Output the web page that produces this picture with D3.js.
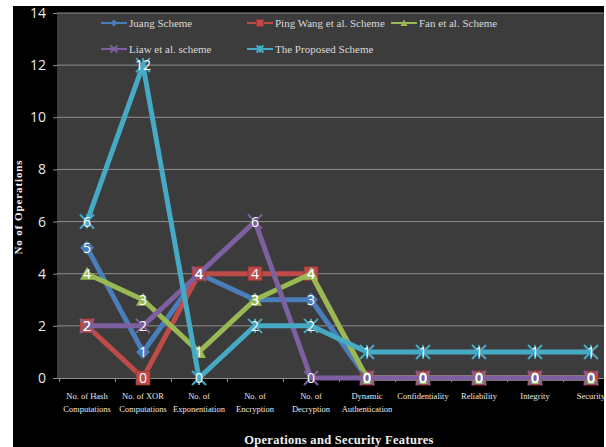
<!DOCTYPE html>
<html>
<head>
<meta charset="utf-8">
<script src="https://cdn.jsdelivr.net/npm/d3@7"></script>
<style>
  html, body { margin: 0; padding: 0; background: #ffffff; }
  svg { display: block; }
</style>
</head>
<body>
<svg id="chart" width="606" height="447"></svg>
<script>
// Categories (two-line labels)
const categories = [
  ["No. of Hash", "Computations"],
  ["No. of XOR", "Computations"],
  ["No. of", "Exponentiation"],
  ["No. of", "Encryption"],
  ["No. of", "Decryption"],
  ["Dynamic", "Authentication"],
  ["Confidentiality"],
  ["Reliability"],
  ["Integrity"],
  ["Security"]
];

// Series values
const juang    = [5, 1, 4, 3, 3, 0, 0, 0, 0, 0];
const pingWang = [2, 0, 4, 4, 4, 0, 0, 0, 0, 0];
const fan      = [4, 3, 1, 3, 4, 0, 0, 0, 0, 0];
const liaw     = [2, 2, 4, 6, 0, 0, 0, 0, 0, 0];
const proposed = [6, 12, 0, 2, 2, 1, 1, 1, 1, 1];

const seriesNames = ["Juang Scheme", "Ping Wang  et al.  Scheme", "Fan et al.  Scheme", "Liaw et al. scheme", "The Proposed Scheme"];
const yTicks = [0, 2, 4, 6, 8, 10, 12, 14];

const series = [
  { name: seriesNames[0], values: juang,    color: "#4a7ebb", marker: "diamond" },
  { name: seriesNames[1], values: pingWang, color: "#be4b48", marker: "square" },
  { name: seriesNames[2], values: fan,      color: "#98b954", marker: "triangle" },
  { name: seriesNames[3], values: liaw,     color: "#7d60a0", marker: "x" },
  { name: seriesNames[4], values: proposed, color: "#46aac5", marker: "star" }
];

const svg = d3.select("#chart");

// Black chart area
svg.append("rect").attr("x", 13).attr("y", 6).attr("width", 591).attr("height", 441).attr("fill", "#000");

const plot = { left: 57, right: 604, top: 13, bottom: 378 };

svg.append("rect")
  .attr("x", plot.left).attr("y", plot.top)
  .attr("width", plot.right - plot.left).attr("height", plot.bottom - plot.top)
  .attr("fill", "#3c3c3c");

const x = d3.scaleBand()
  .domain(d3.range(categories.length))
  .range([59, 619]);
const y = d3.scaleLinear().domain([0, 14]).range([plot.bottom, plot.top]);
const cx = i => x(i) + x.bandwidth() / 2;

// Gridlines
svg.append("g").selectAll("line")
  .data(yTicks.filter(t => t > 0))
  .join("line")
  .attr("x1", plot.left).attr("x2", plot.right)
  .attr("y1", d => y(d)).attr("y2", d => y(d))
  .attr("stroke", "#8e8e8e").attr("stroke-width", 1);

// Y axis
const yAxis = svg.append("g")
  .attr("transform", `translate(${plot.left},0)`)
  .call(d3.axisLeft(y).tickValues(yTicks).tickSize(4).tickPadding(7));
yAxis.select(".domain").remove();
yAxis.selectAll(".tick line").attr("stroke", "#8e8e8e");
yAxis.selectAll(".tick text")
  .attr("fill", "#e8e8e8")
  .attr("font-family", "'Open Sans', sans-serif")
  .attr("font-size", 14);

// X axis
const xAxis = svg.append("g")
  .attr("transform", `translate(0,${plot.bottom})`)
  .call(d3.axisBottom(x).tickSize(0).tickFormat(""));
xAxis.select(".domain").attr("stroke", "#8e8e8e").attr("d", `M${plot.left},0.5H${plot.right}`);
svg.append("g").selectAll("line")
  .data(d3.range(categories.length))
  .join("line")
  .attr("x1", d => x(d) + 0.5).attr("x2", d => x(d) + 0.5)
  .attr("y1", plot.bottom).attr("y2", plot.bottom + 4)
  .attr("stroke", "#8e8e8e");

// Category labels
const catG = svg.append("g")
  .attr("font-family", "'Liberation Serif', 'Times New Roman', serif")
  .attr("font-size", 8.5)
  .attr("fill", "#e8e8e8")
  .attr("text-anchor", "middle");
categories.forEach((lines, i) => {
  lines.forEach((ln, j) => {
    catG.append("text")
      .attr("x", cx(i))
      .attr("y", 399 + j * 13)
      .text(ln);
  });
});

// Axis titles
svg.append("text")
  .attr("x", 339).attr("y", 444)
  .attr("text-anchor", "middle")
  .attr("font-family", "'Liberation Serif', 'Times New Roman', serif")
  .attr("font-weight", "bold")
  .attr("font-size", 12.5)
  .attr("letter-spacing", 0.3)
  .attr("fill", "#f0f0f0")
  .text("Operations and  Security Features");

svg.append("text")
  .attr("transform", "translate(22,207) rotate(-90)")
  .attr("text-anchor", "middle")
  .attr("font-family", "'Liberation Serif', 'Times New Roman', serif")
  .attr("font-weight", "bold")
  .attr("font-size", 11)
  .attr("letter-spacing", 0.9)
  .attr("fill", "#f0f0f0")
  .text("No of  Operations");

// Marker drawing
function drawMarker(g, type, color, size) {
  const s = size / 2;
  if (type === "diamond") {
    g.append("path").attr("d", `M0,${-s}L${s},0L0,${s}L${-s},0Z`).attr("fill", color);
  } else if (type === "square") {
    g.append("rect").attr("x", -s).attr("y", -s).attr("width", size).attr("height", size)
      .attr("fill", color).attr("stroke", "#8a3330").attr("stroke-width", 0.8);
  } else if (type === "triangle") {
    g.append("path").attr("d", `M0,${-s}L${s},${s * 0.85}L${-s},${s * 0.85}Z`).attr("fill", color);
  } else if (type === "x") {
    g.append("path").attr("d", `M${-s},${-s}L${s},${s}M${-s},${s}L${s},${-s}`)
      .attr("stroke", color).attr("stroke-width", 2).attr("fill", "none");
  } else if (type === "star") {
    g.append("path").attr("d", `M${-s},${-s}L${s},${s}M${-s},${s}L${s},${-s}M0,${-s}L0,${s}`)
      .attr("stroke", color).attr("stroke-width", 2).attr("fill", "none");
  }
}

const line = d3.line().x((d, i) => cx(i)).y(d => y(d));

const clip = svg.append("clipPath").attr("id", "plotclip");
clip.append("rect").attr("x", 13).attr("y", 6).attr("width", 591).attr("height", 441);

const dataG = svg.append("g").attr("clip-path", "url(#plotclip)");

series.forEach(s => {
  const g = dataG.append("g");
  g.append("path")
    .datum(s.values)
    .attr("d", line)
    .attr("fill", "none")
    .attr("stroke", s.color)
    .attr("stroke-width", 5)
    .attr("stroke-linejoin", "round");
  s.values.forEach((v, i) => {
    const mg = g.append("g").attr("transform", `translate(${cx(i)},${y(v)})`);
    drawMarker(mg, s.marker, s.color, 14);
  });
});

// Data labels
series.forEach(s => {
  dataG.append("g").selectAll("text")
    .data(s.values)
    .join("text")
    .attr("x", (d, i) => cx(i))
    .attr("y", d => y(d) + 5)
    .attr("text-anchor", "middle")
    .attr("font-family", "'Open Sans', sans-serif")
    .attr("font-size", 14)
    .attr("fill", "#ffffff")
    .text(d => d);
});

// Legend
const legendPos = [
  { x: 101, y: 23 }, { x: 247, y: 23 }, { x: 391, y: 23 },
  { x: 101, y: 49 }, { x: 247, y: 49 }
];
series.forEach((s, i) => {
  const p = legendPos[i];
  const g = svg.append("g").attr("transform", `translate(${p.x},${p.y})`);
  g.append("line").attr("x1", 0).attr("x2", 26).attr("y1", 0).attr("y2", 0)
    .attr("stroke", s.color).attr("stroke-width", 2);
  const mg = g.append("g").attr("transform", "translate(13,0)");
  drawMarker(mg, s.marker, s.color, 7);
  g.append("text")
    .attr("x", 28).attr("y", 4)
    .attr("font-family", "'Liberation Serif', 'Times New Roman', serif")
    .attr("font-size", 11)
    .attr("fill", "#d9d9d9")
    .text(s.name);
});
</script>
</body>
</html>
